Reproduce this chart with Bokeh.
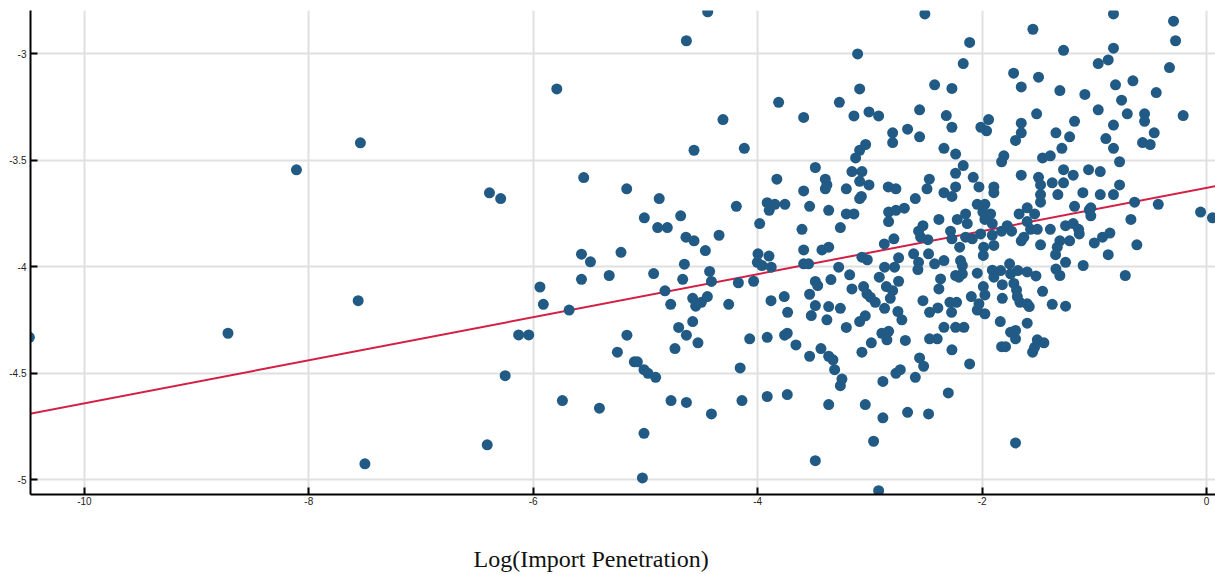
from bokeh.plotting import figure
from bokeh.models import Range1d, FixedTicker, Title
from bokeh.embed import file_html
from bokeh.resources import INLINE

# Data
log_import_pen = [
    -10.49, -8.72, -8.11, -7.54, -7.56, -7.50, -5.79, -6.39, -6.29, -5.55, -5.57, -5.49, -5.57, -5.94,
    -5.91, -5.68, -6.13, -6.04, -6.25, -5.74, -5.41, -6.41,
    -4.445, -4.635, -3.813, -4.309, -4.567, -4.119, -5.167, -4.877, -3.829, -4.190, -5.010, -4.891,
    -4.805, -4.686, -3.915, -3.847, -3.757, -3.897, -3.982, -4.639, -4.567, -4.344,
    -5.218, -4.466, -3.997, -3.899, -4.003, -3.962, -3.879, -5.323, -4.927, -4.653, -4.668, -4.428,
    -4.412, -4.172, -4.036, -4.826, -4.775, -4.579, -4.552, -4.502, -4.448, -4.258, -3.881, -3.763,
    -3.733, -4.579, -4.704, -4.635, -4.532, -4.737, -5.165, -5.250, -5.099, -5.072, -5.013, -4.977,
    -4.909, -4.071, -3.915, -3.760, -3.736, -4.156, -4.772, -4.635, -4.412, -4.140, -3.915, -3.736,
    -5.013, -5.027,
    -2.510, -3.109, -3.091, -2.423, -3.272, -3.590, -3.142, -3.008, -2.922, -2.557, -2.664, -2.797,
    -2.797, -2.557, -3.038, -3.091, -3.127, -3.486, -3.397, -3.383, -3.397, -3.160, -3.071, -3.091,
    -3.008, -3.590, -3.210, -3.076, -3.091, -2.836, -2.768, -2.595, -2.470, -2.491, -3.537, -3.367,
    -3.210, -3.142, -2.833, -2.768, -2.693, -2.833, -3.605, -3.263, -2.527, -2.566, -2.548, -2.483,
    -2.786, -2.871, -3.367, -3.427, -3.590,
    -3.071, -3.023, -3.590, -3.546, -3.278, -3.180, -3.347, -3.486, -3.465, -3.537, -3.160, -3.056,
    -3.026, -2.996, -2.952, -2.869, -2.869, -2.780, -2.744, -2.916, -2.853, -2.797, -2.818, -2.744,
    -2.610, -2.566, -2.572, -2.477, -2.527, -2.468, -3.486, -3.522, -3.367, -3.263, -3.383, -3.210,
    -3.091, -3.041, -2.750, -2.715, -2.893, -2.833, -2.848, -2.987, -3.071, -2.684, -2.468, -3.659,
    -3.537, -3.436, -3.367, -3.329, -3.314, -3.249, -3.263, -2.884, -2.768, -2.729, -2.595, -2.557,
    -2.521, -3.367, -3.041, -2.884, -2.664, -2.477, -2.967, -3.486, -2.922,
    -1.547, -2.111, -1.274, -2.168, -1.719, -1.497, -2.269, -1.651, -1.307, -2.319, -2.269, -1.942,
    -2.011, -1.960, -1.514, -1.651, -1.651, -1.702, -1.342, -1.220, -1.176, -1.289, -2.340, -2.236,
    -1.806, -1.826, -1.461, -1.392, -2.168, -2.236, -2.079, -2.028, -1.651, -1.497, -1.479, -1.274,
    -1.188, -1.375, -1.274, -1.325, -1.895, -1.895, -2.340, -2.269, -2.236, -1.479, -1.479, -1.176,
    -2.043, -1.975, -1.993, -1.924, -2.147, -2.221, -2.132, -2.385, -1.975, -1.909, -1.670, -1.598,
    -1.532, -1.598, -1.776, -1.826, -1.737, -1.568, -1.508, -1.392, -1.256, -1.188, -2.281, -2.269,
    -2.147, -2.087, -2.013, -1.909, -1.628, -1.651, -1.479, -1.307, -1.220, -2.200, -1.986, -1.895,
    -1.330,
    -2.423, -2.340, -2.192, -2.176, -2.043, -1.989, -1.909, -1.835, -1.895, -1.755, -1.746, -1.681,
    -1.598, -1.520, -1.820, -1.717, -1.693, -1.686, -1.663, -1.598, -1.580, -1.461, -1.375, -1.256,
    -1.342, -1.307, -1.256, -1.345, -2.370, -2.385, -2.236, -2.207, -2.176, -2.096, -1.989, -1.975,
    -2.028, -2.043, -1.975, -1.820, -2.287, -2.227, -2.272, -2.394, -2.340, -2.236, -2.162, -2.400,
    -2.269, -2.111, -1.838, -1.746, -1.702, -1.702, -1.598, -1.826, -1.791, -1.508, -1.449, -1.532,
    -1.550, -2.301, -1.702,
    -0.829, -0.294, -0.276, -0.829, -0.876, -0.965, -0.330, -0.656, -0.811, -0.448, -1.084, -0.757,
    -0.965, -0.706, -0.552, -0.552, -0.208, -0.829, -0.466, -0.897, -0.570, -0.502, -0.829, -0.775,
    -1.051, -0.947, -0.775, -0.829, -0.947, -1.102, -1.031, -1.045, -1.031, -0.641, -0.430, -0.674,
    -0.053, 0.053, -1.140, -1.134, -0.927, -0.861, -1.000, -0.621, -0.876, -1.099, -0.724,
]

outcome = [
    -4.332, -4.313, -3.546, -3.419, -4.160, -4.926, -3.166, -3.654, -3.681, -3.582, -3.942, -3.978, -4.060, -4.096,
    -4.177, -4.204, -4.321, -4.321, -4.512, -4.629, -4.665, -4.837,
    -2.804, -2.940, -3.229, -3.310, -3.454, -3.445, -3.635, -3.681, -3.590, -3.717, -3.771, -3.817,
    -3.817, -3.762, -3.700, -3.708, -3.708, -3.736, -3.798, -3.862, -3.879, -3.853,
    -3.933, -3.925, -3.940, -3.951, -3.980, -3.995, -4.003, -4.042, -4.033, -3.989, -4.060, -4.023,
    -4.070, -4.076, -4.069, -4.114, -4.177, -4.149, -4.186, -4.168, -4.141, -4.177, -4.160, -4.141,
    -4.215, -4.258, -4.286, -4.322, -4.358, -4.385, -4.322, -4.402, -4.447, -4.447, -4.484, -4.501,
    -4.520, -4.339, -4.332, -4.322, -4.313, -4.476, -4.629, -4.638, -4.692, -4.629, -4.610, -4.601,
    -4.783, -4.992,
    -2.814, -3.002, -3.166, -3.147, -3.229, -3.300, -3.293, -3.274, -3.293, -3.264, -3.355, -3.372,
    -3.418, -3.391, -3.427, -3.454, -3.490, -3.535, -3.590, -3.617, -3.635, -3.554, -3.554, -3.600,
    -3.617, -3.645, -3.635, -3.671, -3.681, -3.626, -3.635, -3.681, -3.590, -3.635, -3.717, -3.736,
    -3.753, -3.753, -3.744, -3.736, -3.726, -3.789, -3.825, -3.817, -3.808, -3.834, -3.862, -3.874,
    -3.870, -3.894, -3.909, -3.922, -3.922,
    -3.956, -3.968, -3.987, -3.987, -4.003, -4.039, -4.061, -4.070, -4.089, -4.130, -4.105, -4.094,
    -4.128, -4.144, -4.168, -4.196, -4.003, -4.003, -3.959, -4.050, -4.094, -4.113, -4.149, -4.069,
    -3.940, -3.980, -4.014, -3.940, -4.160, -4.215, -4.183, -4.230, -4.188, -4.196, -4.250, -4.286,
    -4.258, -4.231, -4.211, -4.250, -4.313, -4.304, -4.344, -4.358, -4.402, -4.347, -4.339, -4.368,
    -4.421, -4.385, -4.421, -4.438, -4.484, -4.528, -4.559, -4.539, -4.501, -4.484, -4.520, -4.429,
    -4.468, -4.648, -4.648, -4.710, -4.684, -4.692, -4.820, -4.911, -5.052,
    -2.886, -2.948, -2.985, -3.047, -3.092, -3.111, -3.164, -3.157, -3.174, -3.291, -3.346, -3.310,
    -3.346, -3.363, -3.283, -3.327, -3.372, -3.408, -3.372, -3.391, -3.318, -3.445, -3.445, -3.472,
    -3.480, -3.508, -3.490, -3.480, -3.526, -3.562, -3.581, -3.626, -3.571, -3.581, -3.617, -3.545,
    -3.571, -3.607, -3.607, -3.662, -3.626, -3.653, -3.653, -3.671, -3.626, -3.662, -3.698, -3.717,
    -3.708, -3.708, -3.744, -3.753, -3.753, -3.779, -3.798, -3.779, -3.779, -3.798, -3.753, -3.724,
    -3.753, -3.789, -3.808, -3.834, -3.834, -3.825, -3.825, -3.825, -3.808, -3.798, -3.834, -3.870,
    -3.862, -3.870, -3.847, -3.853, -3.862, -3.879, -3.898, -3.879, -3.879, -3.909, -3.909, -3.901,
    -3.909,
    -3.987, -3.972, -3.972, -3.995, -4.031, -3.948, -4.017, -4.019, -4.050, -3.987, -4.034, -4.019,
    -4.025, -4.044, -4.085, -4.079, -4.110, -4.141, -4.168, -4.175, -4.188, -4.116, -4.177, -4.186,
    -4.012, -4.042, -3.980, -3.944, -4.058, -4.105, -4.042, -4.050, -4.034, -4.141, -4.094, -4.133,
    -4.175, -4.204, -4.222, -4.149, -4.168, -4.168, -4.215, -4.194, -4.285, -4.285, -4.285, -4.339,
    -4.391, -4.457, -4.258, -4.308, -4.300, -4.339, -4.266, -4.376, -4.376, -4.344, -4.358, -4.379,
    -4.402, -4.593, -4.828,
    -2.814, -2.848, -2.940, -2.975, -3.030, -3.047, -3.066, -3.128, -3.147, -3.183, -3.192, -3.219,
    -3.264, -3.283, -3.283, -3.318, -3.291, -3.336, -3.372, -3.399, -3.418, -3.427, -3.445, -3.508,
    -3.545, -3.554, -3.617, -3.662, -3.662, -3.653, -3.724, -3.734, -3.762, -3.698, -3.708, -3.779,
    -3.744, -3.771, -3.825, -3.847, -3.862, -3.843, -3.889, -3.898, -3.944, -3.995, -4.042,
]

# Fitted line endpoints
fit_x = [-10.49, 0.08]
fit_y = [-4.692, -3.623]

x_ticks = [-10, -8, -6, -4, -2, 0]
x_tick_labels = ["-10", "-8", "-6", "-4", "-2", "0"]
y_ticks = [-5, -4.5, -4, -3.5, -3]
y_tick_labels = ["-5", "-4.5", "-4", "-3.5", "-3"]

x_title = "Log(Import Penetration)"

p = figure(
    frame_width=1185, frame_height=484,
    min_border_left=30, min_border_right=0, min_border_top=10, min_border_bottom=70,
    x_range=Range1d(-10.48, 0.08), y_range=Range1d(-5.07, -2.798),
    output_backend="svg", toolbar_location=None,
)
p.outline_line_color = None
p.background_fill_color = "white"
p.border_fill_color = "white"

p.line(fit_x, fit_y, line_color="#d31f45", line_width=2)
p.scatter(log_import_pen, outcome, size=11, fill_color="#215a84", line_color=None)

for ax, ticks, labels in ((p.xaxis[0], x_ticks, x_tick_labels), (p.yaxis[0], y_ticks, y_tick_labels)):
    ax.ticker = FixedTicker(ticks=ticks)
    ax.major_label_overrides = {t: l for t, l in zip(ticks, labels)}
    ax.minor_tick_line_color = None
    ax.major_tick_in = 7
    ax.major_tick_out = 0
    ax.major_tick_line_width = 2
    ax.major_tick_line_color = "black"
    ax.axis_line_width = 2
    ax.axis_line_color = "black"
    ax.major_label_text_font = "Liberation Sans"
    ax.major_label_text_font_size = "10px"
    ax.major_label_text_color = "#222222"
p.xaxis[0].major_label_standoff = 2
p.yaxis[0].major_label_standoff = 4

for g in (p.xgrid[0], p.ygrid[0]):
    g.grid_line_color = "#e0e0e0"
    g.grid_line_width = 2
p.xgrid[0].ticker = FixedTicker(ticks=x_ticks)
p.ygrid[0].ticker = FixedTicker(ticks=y_ticks)

p.add_layout(Title(text=x_title, align="left", offset=443, standoff=72,
                   text_font="Liberation Serif", text_font_size="24px",
                   text_font_style="normal", text_color="#111111"), "below")

open("out.html", "w").write(file_html(p, INLINE))
